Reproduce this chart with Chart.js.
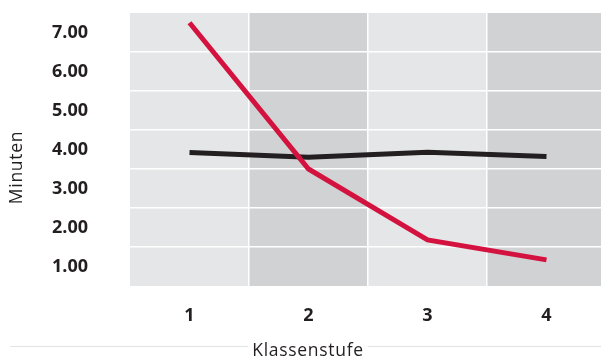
<!DOCTYPE html>
<html>
<head>
<meta charset="utf-8">
<script src="https://cdn.jsdelivr.net/npm/chart.js@4"></script>
<style>
  html, body { margin: 0; padding: 0; background: #fff; overflow: hidden; }
  #wrap { width: 601px; height: 358px; overflow: hidden; }
</style>
</head>
<body>
<div id="wrap"><canvas id="chart" width="606" height="358"></canvas></div>
<script>
// Données
const klassenstufen = ['1', '2', '3', '4'];
const rotWerte = [7.25, 3.5, 1.68, 1.17];
const schwarzWerte = [3.92, 3.8, 3.93, 3.82];
const yMin = 0.5;
const yMax = 7.5;

const textColor = '#231f20';

// Fond en bandes verticales + titres des axes
const bandsPlugin = {
    id: 'bands',
    beforeDraw(chart) {
        const { ctx, chartArea, scales } = chart;
        const x = scales.x;
        ctx.save();
        ctx.fillStyle = '#e5e6e7';
        ctx.fillRect(chartArea.left, chartArea.top, chartArea.right - chartArea.left, chartArea.bottom - chartArea.top);
        const half = (x.getPixelForValue(1) - x.getPixelForValue(0)) / 2;
        ctx.fillStyle = '#d1d2d4';
        klassenstufen.forEach((k, i) => {
            if (i % 2 === 1) {
                const c = x.getPixelForValue(i);
                ctx.fillRect(c - half, chartArea.top, half * 2, chartArea.bottom - chartArea.top);
            }
        });
        ctx.restore();
    },
    afterDraw(chart) {
        const { ctx } = chart;
        ctx.save();
        ctx.font = '17.5px "Open Sans"';
        ctx.letterSpacing = '0.7px';
        const label = 'Klassenstufe';
        const w = ctx.measureText(label).width;
        const cx = 308;
        ctx.strokeStyle = '#e3e3e3';
        ctx.lineWidth = 1;
        ctx.beginPath();
        ctx.moveTo(10, 346.5);
        ctx.lineTo(cx - w / 2 - 4, 346.5);
        ctx.moveTo(cx + w / 2 + 4, 346.5);
        ctx.lineTo(601, 346.5);
        ctx.stroke();
        ctx.fillStyle = textColor;
        ctx.textAlign = 'center';
        ctx.textBaseline = 'alphabetic';
        ctx.fillText(label, cx, 356);
        ctx.translate(22, 167.5);
        ctx.rotate(-Math.PI / 2);
        ctx.fillText('Minuten', 0, 0);
        ctx.restore();
    }
};

new Chart(document.getElementById('chart'), {
    type: 'line',
    data: {
        labels: klassenstufen,
        datasets: [
            {
                data: rotWerte,
                borderColor: '#d4123f',
                borderWidth: 5,
                pointRadius: 0,
                borderCapStyle: 'butt',
                tension: 0
            },
            {
                data: schwarzWerte,
                borderColor: '#231f20',
                borderWidth: 5,
                pointRadius: 0,
                borderCapStyle: 'butt',
                tension: 0
            }
        ]
    },
    options: {
        responsive: false,
        animation: false,
        layout: { padding: { top: 13, right: 0, bottom: 0, left: 0 } },
        plugins: {
            legend: { display: false },
            tooltip: { enabled: false }
        },
        scales: {
            x: {
                offset: true,
                border: { display: false },
                grid: {
                    offset: true,
                    drawTicks: false,
                    lineWidth: 1.5,
                    color: c => (c.index >= 1 && c.index <= 3) ? '#ffffff' : 'rgba(0,0,0,0)'
                },
                ticks: {
                    padding: 19,
                    color: textColor,
                    font: { family: 'Open Sans', size: 18, weight: 'bold' }
                },
                afterFit: s => {
                    s.height = 72;
                    s.paddingLeft = 0;
                    s.paddingRight = 0;
                }
            },
            y: {
                min: yMin,
                max: yMax,
                border: { display: false },
                grid: {
                    drawTicks: false,
                    lineWidth: 1.5,
                    color: c => {
                        const v = c.tick ? c.tick.value : null;
                        if (v === null || v <= yMin || v >= yMax) return 'rgba(0,0,0,0)';
                        return Number.isInteger(v) ? 'rgba(0,0,0,0)' : '#ffffff';
                    }
                },
                ticks: {
                    stepSize: 0.5,
                    autoSkip: false,
                    padding: 42,
                    color: textColor,
                    font: { family: 'Open Sans', size: 18, weight: 'bold' },
                    callback: v => Number.isInteger(v) ? v.toFixed(2) : ''
                },
                afterFit: s => {
                    s.width = 130;
                    s.paddingTop = 0;
                    s.paddingBottom = 0;
                }
            }
        }
    },
    plugins: [bandsPlugin]
});
</script>
</body>
</html>
